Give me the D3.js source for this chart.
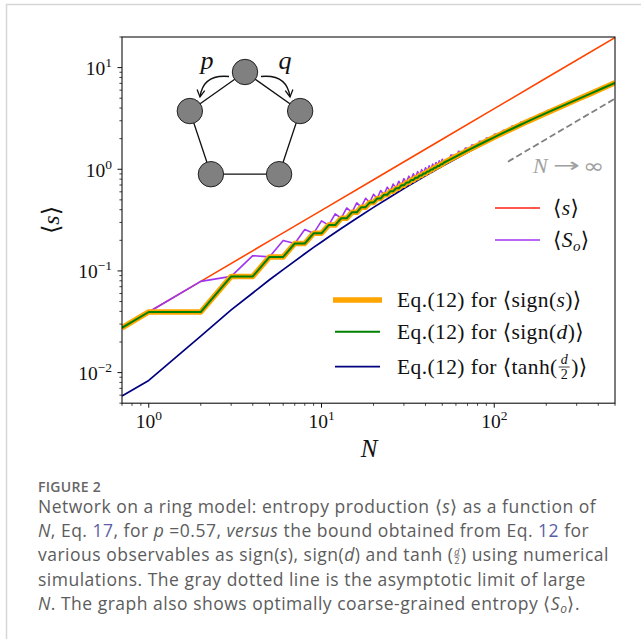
<!DOCTYPE html>
<html><head><meta charset="utf-8">
<script src="https://cdn.jsdelivr.net/npm/d3@7"></script>
<style>body{margin:0;background:#fff}svg{display:block}</style>
</head><body>
<svg id="c" width="641" height="639"></svg>
<script>
// ---------------- data ----------------
const sN = [0.7, 1, 2, 5, 10, 20, 50, 100, 200, 500];
const sV = [0.02765, 0.0395, 0.0789, 0.1974, 0.3946, 0.7892, 1.973, 3.946, 7.892, 19.73];

const signN = [0.7,1,2,3,4,5,6,7,8,9,10,11,12,13,14,15,16,17,18,19,20,21,22,23,24,25,26,27,28,29,30,
  31,32,33,34,35,36,37,38,39,40,41,42,43,44,45,46,47,48,49,50,51,
  55,61,67,73,81,89,99,111,125,141,151,161,181,201,241,301,361,421,500];
const signDV = [0.0276,0.03946,0.03946,0.08835,0.08835,0.13739,0.13739,0.18612,0.18612,0.23446,0.23446,
  0.28238,0.28238,0.32989,0.32989,0.37696,0.37696,0.42363,0.42363,0.46988,0.46988,0.51573,0.51573,
  0.56117,0.56117,0.60622,0.60622,0.65089,0.65089,0.69517,0.69517,0.73908,0.73908,0.78261,0.78261,
  0.82579,0.82579,0.86861,0.86861,0.91108,0.91108,0.95320,0.95320,0.99498,0.99498,1.03644,1.03644,
  1.07755,1.07755,1.11835,1.11835,1.15884,
  1.2391,1.3571,1.4725,1.5854,1.7324,1.8754,2.0490,2.2504,2.4769,2.7257,2.8763,3.0235,3.3087,
  3.5834,4.1070,4.8454,5.5462,6.2253,7.0827];
const signSV = signDV.slice(); // sign(s) and sign(d) coincide

const soN = [0.7,1,2,3,4,5,6,7,8,9,10,11,12,13,14,15,16,17,18,19,20,21,22,23,24,25,26,27,28,29,30,
  31,32,33,34,35,36,37,38,39,40,41,42,43,44,45,46,47,48,49,50,51,
  55,56,61,62,67,68,73,74,81,82,89,90,99,100,111,112,125,126,141,142,161,162,181,182,201,202,
  241,242,301,302,361,362,421,422,499,500];
const soV = [0.0276,0.03946,0.07892,0.08835,0.14128,0.13739,0.19961,0.18612,0.25577,0.23446,0.31039,
  0.28238,0.36381,0.32989,0.41621,0.37696,0.46773,0.42363,0.51844,0.46988,0.56842,0.51573,0.61772,
  0.56117,0.66638,0.60622,0.71444,0.65089,0.76193,0.69517,0.80886,0.73908,0.85527,0.78261,0.90118,
  0.82579,0.94659,0.86861,0.99153,0.91108,1.03601,0.95320,1.08005,0.99498,1.12365,1.03644,1.16683,
  1.07755,1.20959,1.11835,1.25199,1.15884,
  1.2391,1.3770,1.3571,1.4988,1.4725,1.6175,1.5854,1.7333,1.7324,1.8837,1.8754,2.0295,2.0490,2.2062,
  2.2504,2.4106,2.4769,2.6397,2.7257,2.8907,3.0235,3.1904,3.3087,3.4769,3.5834,3.7523,4.1070,4.2764,
  4.8454,5.0139,5.5462,5.7134,6.2253,6.3916,7.0827,7.2472];

const tanhN = [0.7,1,2,3,4,5,6,8,9,10,11,13,16,20,25,30,40,50,73,99,151,201,301,421,500];
const tanhV = [0.0059,0.00838,0.02282,0.04132,0.06071,0.08188,0.10311,0.14747,0.17030,0.19277,0.21585,
  0.26167,0.33025,0.42156,0.53457,0.64549,0.86144,1.06950,1.52070,1.98882,2.82323,3.53502,4.80228,
  6.18521,7.02];

const asymN = [120, 500];
const asymV = [1.188, 4.95];

const xMajor = [1, 10, 100];
const xMajorExp = ["0", "1", "2"];
const yMajor = [0.01, 0.1, 1, 10];
const yMajorExp = ["\u22122", "\u22121", "0", "1"];

// ---------------- drawing ----------------
const SERIF = "'Liberation Serif','DejaVu Serif',serif";
const SANS = "'Open Sans','Noto Sans',sans-serif";
const svg = d3.select('#c');
svg.append('rect').attr('width', 641).attr('height', 639).attr('fill', '#fff');
svg.append('path').attr('d', 'M6.5,639 V4.5 H641').attr('fill', 'none')
  .attr('stroke', '#d6d6d6').attr('stroke-width', 1.5);

const X0 = 122, X1 = 615, Y0 = 37, Y1 = 403.2;
const x = d3.scaleLog().domain([0.7, 500]).range([X0, X1]);
const y = d3.scaleLog().domain([0.005, 20]).range([Y1, Y0]);

svg.append('clipPath').attr('id', 'clip').append('rect')
  .attr('x', X0).attr('y', Y0).attr('width', X1 - X0).attr('height', Y1 - Y0);
const g = svg.append('g').attr('clip-path', 'url(#clip)');
const line = d3.line().x(d => x(d[0])).y(d => y(d[1]));
const pairs = (ns, vs) => ns.map((n, i) => [n, vs[i]]);
function drawLine(ns, vs, color, w, dash) {
  const p = g.append('path').datum(pairs(ns, vs)).attr('d', line)
    .attr('fill', 'none').attr('stroke', color).attr('stroke-width', w)
    .attr('stroke-linejoin', 'round');
  if (dash) p.attr('stroke-dasharray', dash);
  return p;
}
drawLine(sN, sV, '#ff4500', 1.6);
drawLine(tanhN, tanhV, '#000080', 1.7);
drawLine(soN, soV, '#a034f0', 1.6);
drawLine(signN, signSV, '#ffa500', 5.5);
drawLine(signN, signDV, '#008000', 2);
drawLine(asymN, asymV, '#808080', 1.8, '6.5,3.2');

// frame
svg.append('rect').attr('x', X0).attr('y', Y0).attr('width', X1 - X0).attr('height', Y1 - Y0)
  .attr('fill', 'none').attr('stroke', '#111').attr('stroke-width', 1.1);

const isMajor = t => Math.abs(Math.log10(t) - Math.round(Math.log10(t))) < 1e-9;
const ax = svg.append('g').attr('stroke', '#111');
x.ticks().forEach(t => {
  if (t < 0.7 || t > 500) return;
  const L = isMajor(t) ? 4.5 : 2.6;
  ax.append('line').attr('x1', x(t)).attr('x2', x(t)).attr('y1', Y1).attr('y2', Y1 + L)
    .attr('stroke-width', isMajor(t) ? 1 : 0.8);
});
y.ticks().forEach(t => {
  if (t < 0.005 || t > 20) return;
  const L = isMajor(t) ? 4.5 : 2.6;
  ax.append('line').attr('y1', y(t)).attr('y2', y(t)).attr('x1', X0).attr('x2', X0 - L)
    .attr('stroke-width', isMajor(t) ? 1 : 0.8);
});
function powLabel(sel, exp) {
  sel.append('tspan').text('10');
  sel.append('tspan').attr('dy', -8).attr('font-size', 13.5).text(exp);
}
xMajor.forEach((t, i) => {
  const tx = svg.append('text').attr('x', x(t)).attr('y', 428).attr('text-anchor', 'middle')
    .attr('font-family', SERIF).attr('font-size', 19.5).attr('fill', '#111');
  powLabel(tx, xMajorExp[i]);
});
yMajor.forEach((t, i) => {
  const tx = svg.append('text').attr('x', 112).attr('y', y(t) + 7.5).attr('text-anchor', 'end')
    .attr('font-family', SERIF).attr('font-size', 19.5).attr('fill', '#111');
  powLabel(tx, yMajorExp[i]);
});
// axis labels
svg.append('text').attr('x', 369).attr('y', 457).attr('text-anchor', 'middle')
  .attr('font-family', SERIF).attr('font-style', 'italic').attr('font-size', 25).attr('fill', '#111').text('N');
const yl = svg.append('text').attr('transform', 'translate(59,220) rotate(-90)').attr('text-anchor', 'middle')
  .attr('font-family', SERIF).attr('font-size', 24).attr('fill', '#111');
yl.append('tspan').text('\u27E8');
yl.append('tspan').attr('font-style', 'italic').text('s');
yl.append('tspan').text('\u27E9');

// asymptote label
const AG = '#a0a0a0';
svg.append('text').attr('x', 533).attr('y', 173).attr('font-family', SERIF).attr('font-size', 22)
  .attr('font-style', 'italic').attr('fill', AG).text('N');
svg.append('text').attr('x', 553).attr('y', 172).attr('font-family', "'DejaVu Sans',sans-serif").attr('font-size', 20)
  .attr('fill', AG).attr('textLength', 27).attr('lengthAdjust', 'spacingAndGlyphs').text('\u2192');
svg.append('text').attr('x', 583).attr('y', 173).attr('font-family', "'DejaVu Sans',sans-serif").attr('font-size', 20)
  .attr('fill', AG).attr('textLength', 21).attr('lengthAdjust', 'spacingAndGlyphs').text('\u221E');

// legends
const leg = svg.append('g');
function legLine(x1, x2, yy, color, w) {
  leg.append('line').attr('x1', x1).attr('x2', x2).attr('y1', yy).attr('y2', yy)
    .attr('stroke', color).attr('stroke-width', w);
}
function legText(xx, yy) {
  return leg.append('text').attr('x', xx).attr('y', yy).attr('font-family', SERIF)
    .attr('font-size', 21.5).attr('letter-spacing', 0.4).attr('fill', '#111');
}
legLine(495, 540, 208, '#ff2010', 1.6);
let t1 = legText(553, 215);
t1.append('tspan').text('\u27E8'); t1.append('tspan').attr('font-style', 'italic').text('s'); t1.append('tspan').text('\u27E9');
legLine(495, 540, 240, '#a034f0', 1.6);
let t2 = legText(553, 247);
t2.append('tspan').text('\u27E8'); t2.append('tspan').attr('font-style', 'italic').text('S');
t2.append('tspan').attr('font-style', 'italic').attr('font-size', 15).attr('dy', 4).text('o');
t2.append('tspan').attr('dy', -4).text('\u27E9');

legLine(333, 382, 300, '#ffa500', 5.5);
let t3 = legText(397, 307);
t3.append('tspan').text('Eq.(12) for \u27E8sign(');
t3.append('tspan').attr('font-style', 'italic').text('s');
t3.append('tspan').text(')\u27E9');
legLine(335, 380, 331.7, '#008000', 2);
let t4 = legText(397, 338.7);
t4.append('tspan').text('Eq.(12) for \u27E8sign(');
t4.append('tspan').attr('font-style', 'italic').text('d');
t4.append('tspan').text(')\u27E9');
legLine(335, 380, 366.7, '#000080', 1.7);
let t5 = legText(397, 373.7);
t5.text('Eq.(12) for \u27E8tanh(');
let fx = 397 + t5.node().getComputedTextLength() + 0.5;
leg.append('text').attr('x', fx + 6).attr('y', 363.5).attr('text-anchor', 'middle').attr('font-family', SERIF)
  .attr('font-size', 14).attr('font-style', 'italic').attr('fill', '#111').text('d');
leg.append('line').attr('x1', fx + 0.5).attr('x2', fx + 11.5).attr('y1', 367).attr('y2', 367).attr('stroke', '#111').attr('stroke-width', 0.8);
leg.append('text').attr('x', fx + 6).attr('y', 379).attr('text-anchor', 'middle').attr('font-family', SERIF)
  .attr('font-size', 14).attr('fill', '#111').text('2');
legText(fx + 13, 373.7).text(')\u27E9');

// inset: ring network
const inset = svg.append('g');
const cx = 245, cy = 128.5, rx = 58, ry = 56.5;
const verts = [-90, -18, 54, 126, 198].map(a => [cx + rx * Math.cos(a * Math.PI / 180), cy + ry * Math.sin(a * Math.PI / 180)]);
verts.forEach((v, i) => {
  const w = verts[(i + 1) % 5];
  inset.append('line').attr('x1', v[0]).attr('y1', v[1]).attr('x2', w[0]).attr('y2', w[1])
    .attr('stroke', '#111').attr('stroke-width', 1.3);
});
verts.forEach(v => inset.append('circle').attr('cx', v[0]).attr('cy', v[1]).attr('r', 12.7)
  .attr('fill', '#808080').attr('stroke', '#222').attr('stroke-width', 1));
function arrow(sx, sy, qx, qy, ex, ey) {
  inset.append('path').attr('d', `M${sx},${sy} Q${qx},${qy} ${ex},${ey}`).attr('fill', 'none')
    .attr('stroke', '#111').attr('stroke-width', 1.3);
  const ang = Math.atan2(ey - qy, ex - qx), L = 8, sp = 0.5;
  const p1 = [ex - L * Math.cos(ang - sp), ey - L * Math.sin(ang - sp)];
  const p2 = [ex - L * Math.cos(ang + sp), ey - L * Math.sin(ang + sp)];
  inset.append('path').attr('d', `M${p1[0]},${p1[1]} L${ex},${ey} L${p2[0]},${p2[1]}`)
    .attr('fill', 'none').attr('stroke', '#111').attr('stroke-width', 1.3);
}
arrow(229, 76.5, 203, 74, 200, 97);
arrow(261, 76.5, 287, 74, 290, 97);
inset.append('text').attr('x', 207).attr('y', 69).attr('text-anchor', 'middle').attr('font-family', SERIF)
  .attr('font-style', 'italic').attr('font-size', 26).attr('fill', '#111').text('p');
inset.append('text').attr('x', 285).attr('y', 69).attr('text-anchor', 'middle').attr('font-family', SERIF)
  .attr('font-style', 'italic').attr('font-size', 26).attr('fill', '#111').text('q');

// caption
const CAP = '#5c5c5c', LINK = '#5b5ea6';
svg.append('text').attr('x', 38).attr('y', 492).attr('font-family', SANS).attr('font-size', 14)
  .attr('font-weight', 600).attr('fill', '#666').attr('letter-spacing', 0.3).text('FIGURE 2');
function capLine(yy, segs, xx) {
  const t = svg.append('text').attr('x', xx || 38).attr('y', yy).attr('font-family', SANS)
    .attr('font-size', 17.5).attr('letter-spacing', 0.5).attr('fill', CAP);
  segs.forEach(s => {
    const sp = t.append('tspan').text(s[0]);
    if (s[1] === 'i' || s[1] === 'sub') sp.attr('font-style', 'italic');
    if (s[1] === 'l') sp.attr('fill', LINK);
    if (s[1] === 'sub') sp.attr('font-size', 12).attr('dy', 3);
    if (s[1] === 'up') sp.attr('dy', -3);
  });
  return t;
}
const lh = 24.2, b0 = 513;
capLine(b0, [['Network on a ring model: entropy production \u27E8'], ['s', 'i'], ['\u27E9 as a function of']]);
capLine(b0 + lh, [['N', 'i'], [', Eq. '], ['17', 'l'], [', for '], ['p', 'i'], [' =0.57, '], ['versus', 'i'], [' the bound obtained from Eq. '], ['12', 'l'], [' for']]);
const c3 = capLine(b0 + 2 * lh, [['various observables as sign('], ['s', 'i'], ['), sign('], ['d', 'i'], [') and tanh (']]);
let cx3 = 38 + c3.node().getComputedTextLength();
svg.append('text').attr('x', cx3 + 3.5).attr('y', b0 + 2 * lh - 6.5).attr('text-anchor', 'middle').attr('font-family', SANS)
  .attr('font-size', 9).attr('font-style', 'italic').attr('fill', CAP).text('d');
svg.append('line').attr('x1', cx3 + 0.5).attr('x2', cx3 + 6.5).attr('y1', b0 + 2 * lh - 5.5).attr('y2', b0 + 2 * lh - 5.5)
  .attr('stroke', CAP).attr('stroke-width', 0.7);
svg.append('text').attr('x', cx3 + 3.5).attr('y', b0 + 2 * lh + 2.5).attr('text-anchor', 'middle').attr('font-family', SANS)
  .attr('font-size', 9).attr('fill', CAP).text('2');
capLine(b0 + 2 * lh, [[') using numerical']], cx3 + 7.5);
capLine(b0 + 3 * lh, [['simulations. The gray dotted line is the asymptotic limit of large']]);
capLine(b0 + 4 * lh, [['N', 'i'], ['. The graph also shows optimally coarse-grained entropy \u27E8'], ['S', 'i'], ['o', 'sub'], ['\u27E9.', 'up']]);
</script>
</body></html>
